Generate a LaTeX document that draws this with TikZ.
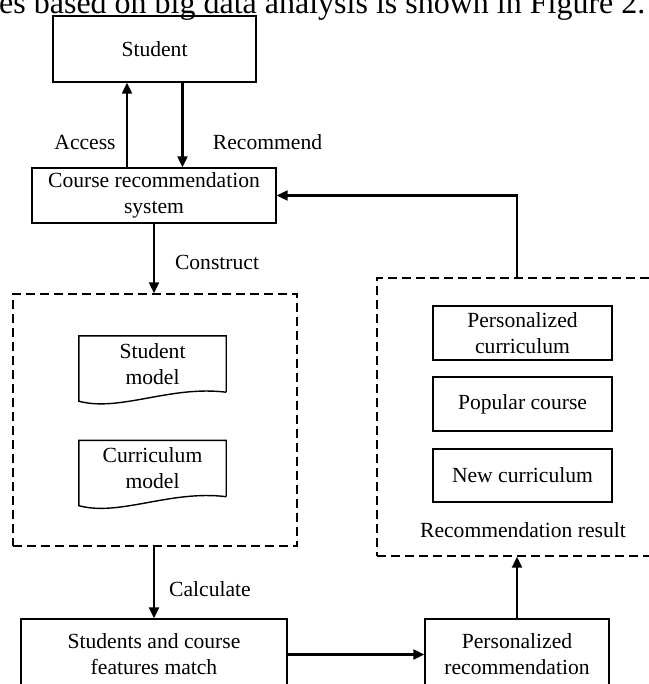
\documentclass[tikz,border=0pt]{standalone}
\usepackage{fontspec}
\setmainfont{Liberation Serif}
\usetikzlibrary{arrows.meta}
\begin{document}
\begin{tikzpicture}[x=1pt, y=-1pt, line join=miter,
  every node/.style={font=\fontsize{21.6}{26}\selectfont},
  box/.style={draw, line width=1.4pt, inner sep=0pt, align=center},
  group/.style={draw, line width=1.4pt, dash pattern=on 9pt off 5pt, inner sep=0pt},
  docbox/.style={inner sep=0pt, align=center, minimum width=147, minimum height=56},
  flow/.style={line width=2.2pt, -{Triangle[length=11pt,width=10pt]}}]
  \useasboundingbox (0,0) rectangle (648,684);
  % Textzeile oben (angeschnitten)
  \node[anchor=base west, inner sep=0pt, font=\fontsize{32}{38}\selectfont] (caption) at (-1,14)
    {es based on big data analysis is shown in Figure 2.};
  % Student und System
  \node[box, minimum width=203, minimum height=66] (student) at (154.5,49) {Student};
  \node[box, minimum width=244, minimum height=55] (course) at (154,195.5) {Course recommendation\\system};
  \node (access) at (85,142) {Access};
  \node (recommend) at (267.5,142) {Recommend};
  \draw[flow] ([xshift=-27pt]course.north) -- ([xshift=-27pt]course.north |- student.south);
  \draw[flow] ([xshift=28pt]student.south) -- ([xshift=28pt]student.south |- course.north);
  % Modelle
  \node[group, minimum width=284, minimum height=252] (models) at (155,420) {};
  \node[docbox] (stumodel) at (152.5,364) {Student\\model};
  \node[docbox] (curmodel) at (152.5,468.5) {Curriculum\\model};
  \foreach \m in {stumodel,curmodel}
    \draw[line width=1.4pt] (\m.south east) -- (\m.north east) -- (\m.north west)
      -- ([yshift=-9pt]\m.south west) .. controls +(41,11) and +(-56,-7) .. (\m.south east);
  \node (construct) at (217,262) {Construct};
  \draw[flow] (course.south) -- (course.south |- models.north);
  % Abgleich und Empfehlung
  \node[box, minimum width=266, minimum height=71] (match) at (154,654.5) {Students and course\\features match};
  \node[box, minimum width=184, minimum height=71] (personal) at (517,654.5) {Personalized\\recommendation};
  \node (calculate) at (210,589) {Calculate};
  \draw[flow] (models.south -| match.north) -- (match.north);
  \draw[flow] (match.east) -- (personal.west);
  % Ergebnis
  \node[group, minimum width=291, minimum height=278] (results) at (522.5,417) {};
  \node[box, minimum width=179, minimum height=54] (pcur) at (522.5,333) {Personalized\\curriculum};
  \node[box, minimum width=179, minimum height=54] (popular) at (522.5,404) {Popular course};
  \node[box, minimum width=179, minimum height=53] (newcur) at (522.5,475.5) {New curriculum};
  \node (reslabel) at (523,530) {Recommendation result};
  \draw[flow] (personal.north) -- (personal.north |- results.south);
  \draw[flow] (results.north -| personal.north) |- (course.east);
\end{tikzpicture}
\end{document}
